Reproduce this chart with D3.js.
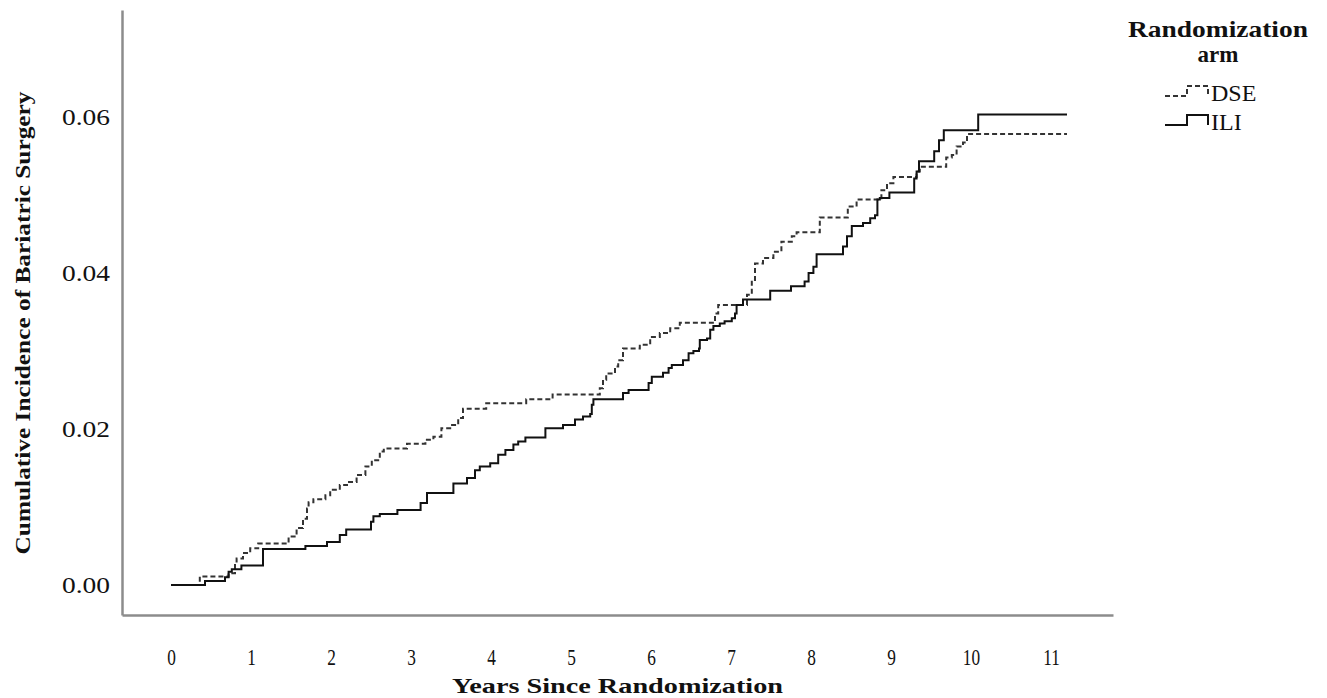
<!DOCTYPE html>
<html>
<head>
<meta charset="utf-8">
<script src="https://cdn.jsdelivr.net/npm/d3@7"></script>
<style>
  body { margin: 0; background: #fff; }
  svg { display: block; }
</style>
</head>
<body>
<svg width="1327" height="698"></svg>
<script>
// step points: time (years) where the cumulative incidence changes, and new value
var iliTimes = [0, 0.425, 0.675, 0.72, 0.76, 0.88, 1.15, 1.68, 1.95, 2.11, 2.19, 2.50, 2.53, 2.61, 2.83,
  3.12, 3.20, 3.53, 3.70, 3.80, 3.86, 3.99, 4.09, 4.18, 4.28, 4.34, 4.43, 4.68, 4.90, 5.05, 5.15, 5.24,
  5.26, 5.28, 5.65, 5.72, 5.97, 6.01, 6.15, 6.22, 6.26, 6.40, 6.47, 6.53, 6.60, 6.61, 6.70, 6.74, 6.78,
  6.86, 6.92, 7.01, 7.05, 7.07, 7.15, 7.49, 7.75, 7.92, 7.97, 8.03, 8.07, 8.40, 8.45, 8.51, 8.65, 8.74,
  8.80, 8.83, 8.86, 8.98, 9.29, 9.32, 9.35, 9.54, 9.60, 9.66, 10.09, 11.2];
var iliValues = [0, 0.0005, 0.0010, 0.0017, 0.0020, 0.0025, 0.0046, 0.0050, 0.0055, 0.0064, 0.0071, 0.0081, 0.0088, 0.0091, 0.0096,
  0.0105, 0.0118, 0.0130, 0.0137, 0.0147, 0.0152, 0.0156, 0.0167, 0.0173, 0.0180, 0.0184, 0.0189, 0.0201, 0.0205, 0.0212, 0.0216, 0.0219,
  0.0231, 0.0238, 0.0246, 0.0250, 0.0259, 0.0267, 0.0272, 0.0278, 0.0282, 0.0288, 0.0297, 0.0300, 0.0303, 0.0314, 0.0316, 0.0327, 0.0332,
  0.0335, 0.0338, 0.0342, 0.0348, 0.0359, 0.0366, 0.0377, 0.0383, 0.0389, 0.0400, 0.0408, 0.0424, 0.0434, 0.0447, 0.0460, 0.0464, 0.0470,
  0.0474, 0.0494, 0.0496, 0.0503, 0.0521, 0.0530, 0.0543, 0.0556, 0.0570, 0.0583, 0.0603, 0.0603];

var dseTimes = [0, 0.36, 0.72, 0.80, 0.82, 0.90, 0.99, 1.09, 1.47, 1.57, 1.65, 1.70, 1.72, 1.78, 1.93, 1.99,
  2.11, 2.20, 2.32, 2.43, 2.51, 2.61, 2.66, 2.95, 3.18, 3.28, 3.38, 3.49, 3.59, 3.65, 3.94, 4.44, 4.77,
  5.36, 5.40, 5.44, 5.55, 5.59, 5.65, 5.86, 5.99, 6.11, 6.24, 6.36, 6.80, 6.84, 7.20, 7.26, 7.30, 7.40,
  7.53, 7.63, 7.76, 7.82, 8.11, 8.46, 8.57, 8.88, 8.95, 9.03, 9.32, 9.36, 9.69, 9.76, 9.82, 9.90, 9.95, 11.2];
var dseValues = [0, 0.0011, 0.0015, 0.0028, 0.0034, 0.0041, 0.0047, 0.0053, 0.0062, 0.0073, 0.0085, 0.0098, 0.0106, 0.0110, 0.0115, 0.0122,
  0.0128, 0.0132, 0.0141, 0.0152, 0.0160, 0.0171, 0.0175, 0.0181, 0.0186, 0.0190, 0.0201, 0.0205, 0.0214, 0.0226, 0.0233, 0.0238, 0.0244,
  0.0252, 0.0263, 0.0271, 0.0280, 0.0288, 0.0303, 0.0308, 0.0318, 0.0323, 0.0329, 0.0336, 0.0348, 0.0359, 0.0372, 0.0391, 0.0412, 0.0419,
  0.0427, 0.0440, 0.0447, 0.0452, 0.0471, 0.0485, 0.0494, 0.0506, 0.0515, 0.0523, 0.0530, 0.0536, 0.0548, 0.0551, 0.0562, 0.0567, 0.0578, 0.0578];

var xTicks = [0, 1, 2, 3, 4, 5, 6, 7, 8, 9, 10, 11];
var yTicks = [0, 0.02, 0.04, 0.06];
var armNames = ["DSE", "ILI"];

var svg = d3.select("svg");
var font = "'Liberation Serif', 'Times New Roman', serif";

// plot frame
var box = { left: 122, right: 1113, top: 10, bottom: 615 };

var x = d3.scaleLinear().domain([-0.6125, 11.775]).range([box.left, box.right]);
var y = d3.scaleLinear().domain([-0.00385, 0.0737]).range([box.bottom, box.top]);

var xAxis = d3.axisBottom(x).tickValues(xTicks).tickSize(0).tickPadding(33).tickFormat(d3.format("d"));
var yAxis = d3.axisLeft(y).tickValues(yTicks).tickSize(0).tickPadding(12).tickFormat(d3.format(".2f"));

var gx = svg.append("g")
  .attr("transform", "translate(0," + box.bottom + ")")
  .call(xAxis);
var gy = svg.append("g")
  .attr("transform", "translate(" + box.left + ",0)")
  .call(yAxis);

[gx, gy].forEach(function(g) {
  g.select(".domain").attr("stroke", "#8c8c8c").attr("stroke-width", 2.5);
  g.selectAll("text")
    .attr("fill", "#111")
    .style("font-family", font)
    .style("font-size", "24px");
});
gx.selectAll("text").attr("transform", "scale(0.72,1)");
gy.selectAll("text").attr("textLength", 48).attr("lengthAdjust", "spacingAndGlyphs");

// step curves
var line = d3.line()
  .x(function(d) { return x(d[0]); })
  .y(function(d) { return y(d[1]); })
  .curve(d3.curveStepAfter);

var dse = d3.zip(dseTimes, dseValues);
var ili = d3.zip(iliTimes, iliValues);

svg.append("path")
  .datum(dse)
  .attr("d", line)
  .attr("fill", "none")
  .attr("stroke", "#333")
  .attr("stroke-width", 2)
  .attr("stroke-dasharray", "5,3");

svg.append("path")
  .datum(ili)
  .attr("d", line)
  .attr("fill", "none")
  .attr("stroke", "#111")
  .attr("stroke-width", 2);

// axis titles
svg.append("text")
  .attr("x", (box.left + box.right) / 2)
  .attr("y", 693)
  .attr("text-anchor", "middle")
  .attr("textLength", 331)
  .attr("lengthAdjust", "spacingAndGlyphs")
  .style("font-family", font)
  .style("font-weight", "bold")
  .style("font-size", "22px")
  .attr("fill", "#111")
  .text("Years Since Randomization");

svg.append("text")
  .attr("transform", "translate(30,323) rotate(-90)")
  .attr("text-anchor", "middle")
  .attr("textLength", 463)
  .attr("lengthAdjust", "spacingAndGlyphs")
  .style("font-family", font)
  .style("font-weight", "bold")
  .style("font-size", "22px")
  .attr("fill", "#111")
  .text("Cumulative Incidence of Bariatric Surgery");

// legend
var legend = svg.append("g").attr("transform", "translate(1165,0)");

legend.append("text")
  .attr("x", 53).attr("y", 37)
  .attr("text-anchor", "middle")
  .attr("textLength", 180)
  .attr("lengthAdjust", "spacingAndGlyphs")
  .style("font-family", font).style("font-weight", "bold").style("font-size", "23px")
  .attr("fill", "#111")
  .text("Randomization");
legend.append("text")
  .attr("x", 53).attr("y", 62)
  .attr("text-anchor", "middle")
  .style("font-family", font).style("font-weight", "bold").style("font-size", "23px")
  .attr("fill", "#111")
  .text("arm");

var keyShape = function(y0) {
  return "M0," + y0 + "H22V" + (y0 - 10) + "H43V" + y0;
};

var item = legend.selectAll("g.item")
  .data(armNames)
  .enter()
  .append("g")
  .attr("class", "item")
  .attr("transform", function(d, i) { return "translate(0," + (96 + i * 29) + ")"; });

item.append("path")
  .attr("d", keyShape(0))
  .attr("fill", "none")
  .attr("stroke", function(d, i) { return i == 0 ? "#333" : "#111"; })
  .attr("stroke-width", 2)
  .attr("stroke-dasharray", function(d, i) { return i == 0 ? "5,3" : null; });

item.append("text")
  .attr("x", 46).attr("y", 5)
  .style("font-family", font).style("font-size", "24px")
  .attr("fill", "#111")
  .text(function(d) { return d; });
</script>
</body>
</html>
